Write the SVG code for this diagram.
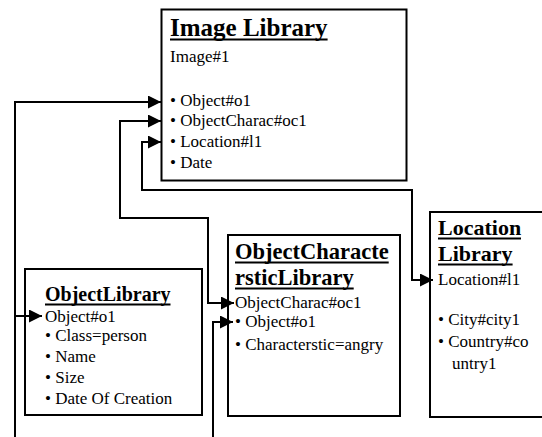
<svg xmlns="http://www.w3.org/2000/svg" width="542" height="437" viewBox="0 0 542 437">
<style>
.box{fill:#fff;stroke:#000;stroke-width:2}
.t{font-family:"Liberation Serif","Times New Roman",serif;font-weight:bold;fill:#000}
.b{font-family:"Liberation Serif","Times New Roman",serif;font-size:17px;fill:#000}
.ul{stroke:#000;stroke-width:2}
.c{fill:none;stroke:#000;stroke-width:2}
</style>
<defs>
<marker id="ah" markerUnits="userSpaceOnUse" markerWidth="14" markerHeight="14" refX="13" refY="6.5" orient="auto-start-reverse">
<path d="M0,0 L13,6.5 L0,13 z" fill="#000"/>
</marker>
</defs>
<rect width="542" height="437" fill="#fff"/>
<g id="image-library">
<rect class="box" x="161.5" y="9.5" width="245" height="171"/>
<text class="t" x="170" y="36" font-size="25">Image Library</text>
<line class="ul" x1="170" y1="39.5" x2="327.6" y2="39.5"/>
<text class="b" x="170" y="62" font-size="18.5">Image#1</text>
<text class="b" x="170" y="106">• Object#o1</text>
<text class="b" x="170" y="126">• ObjectCharac#oc1</text>
<text class="b" x="170" y="147">• Location#l1</text>
<text class="b" x="170" y="168">• Date</text>
</g>
<g id="object-library">
<rect class="box" x="25" y="269" width="177" height="146"/>
<text class="t" x="45" y="301" font-size="20">ObjectLibrary</text>
<line class="ul" x1="45" y1="304.5" x2="170.5" y2="304.5"/>
<text class="b" x="45" y="322">Object#o1</text>
<text class="b" x="45" y="341">• Class=person</text>
<text class="b" x="45" y="362">• Name</text>
<text class="b" x="45" y="383">• Size</text>
<text class="b" x="45" y="404">• Date Of Creation</text>
</g>
<g id="object-characteristic-library">
<rect class="box" x="228" y="235" width="172" height="181"/>
<text class="t" x="235" y="259" font-size="22.5">ObjectCharacte</text>
<line class="ul" x1="235" y1="262.5" x2="388.7" y2="262.5"/>
<text class="t" x="235" y="285" font-size="22.5">rsticLibrary</text>
<line class="ul" x1="235" y1="288.5" x2="353.7" y2="288.5"/>
<text class="b" x="235" y="308">ObjectCharac#oc1</text>
<text class="b" x="235" y="327">• Object#o1</text>
<text class="b" x="235" y="350">• Characterstic=angry</text>
</g>
<g id="location-library">
<rect class="box" x="430" y="212" width="120" height="205"/>
<text class="t" x="438" y="235" font-size="22">Location</text>
<line class="ul" x1="438" y1="238.5" x2="521" y2="238.5"/>
<text class="t" x="438" y="261" font-size="22">Library</text>
<line class="ul" x1="438" y1="264.5" x2="512.6" y2="264.5"/>
<text class="b" x="438" y="285">Location#l1</text>
<text class="b" x="438" y="325">• City#city1</text>
<text class="b" x="438" y="347">• Country#co</text>
<text class="b" x="452" y="369">untry1</text>
</g>
<g id="connectors">
<path class="c" d="M15,440 V102 H161" marker-end="url(#ah)"/>
<path class="c" d="M15,316 H42" marker-end="url(#ah)"/>
<path class="c" d="M234,303 H208 V218 H120 V121 H161" marker-start="url(#ah)" marker-end="url(#ah)"/>
<path class="c" d="M213,440 V322 H233" marker-end="url(#ah)"/>
<path class="c" d="M433,280 H412 V190 H142 V142 H161" marker-start="url(#ah)" marker-end="url(#ah)"/>
</g>
</svg>
